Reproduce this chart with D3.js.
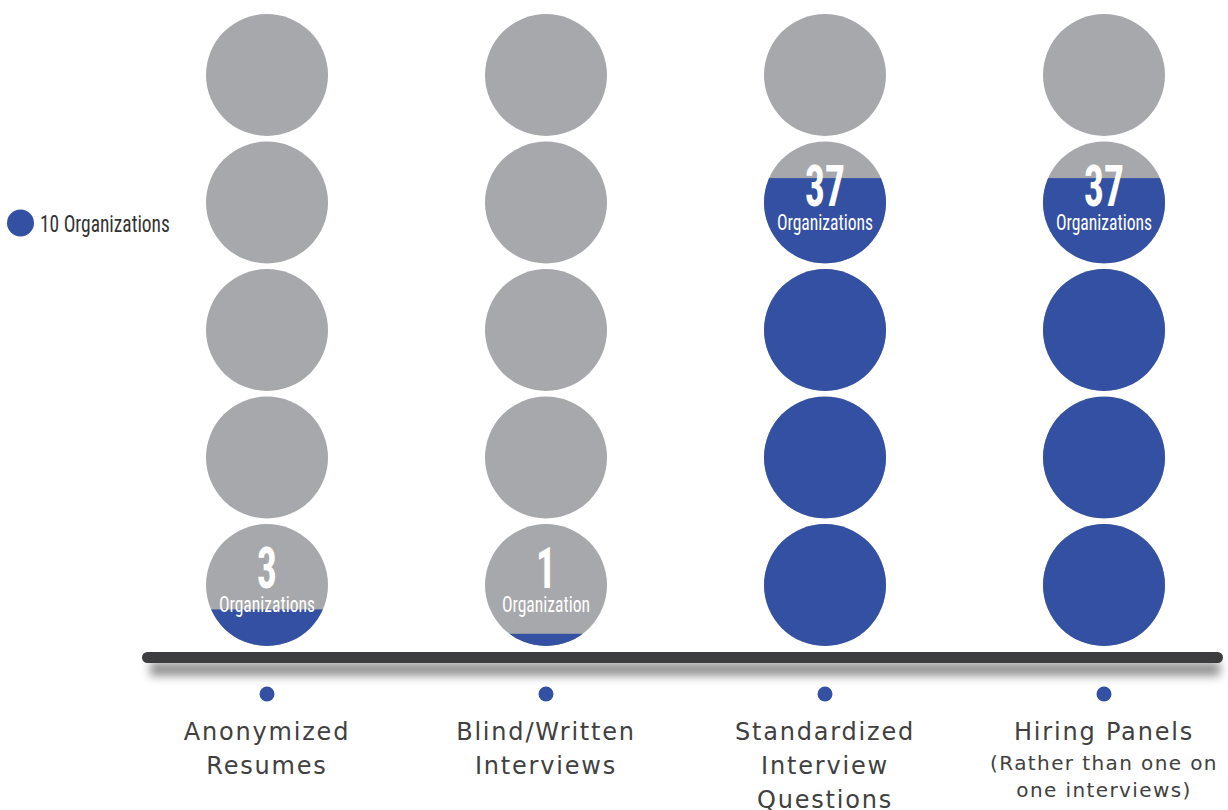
<!DOCTYPE html>
<html><head><meta charset="utf-8">
<script src="https://cdn.jsdelivr.net/npm/d3@7/dist/d3.min.js"></script>
<style>
body{margin:0;background:#fff;}
svg{display:block;}
</style></head>
<body>
<svg id="chart" width="1228" height="810"></svg>
<script>
const categories = ["Anonymized Resumes","Blind/Written Interviews","Standardized Interview Questions","Hiring Panels"];
const labelLines = [["Anonymized","Resumes"],["Blind/Written","Interviews"],["Standardized","Interview","Questions"],["Hiring Panels","(Rather than one on","one interviews)"]];
const values = [3, 1, 37, 37];
const unitsPerCircle = 10;
const circleCount = 5;
const legendLabel = "10 Organizations";

const W = 1228, H = 810;
const svg = d3.select("#chart");
const blue = "#3450a2", gray = "#a7a8ab", dark = "#3d3d3f";
const r = 61;

const x = d3.scalePoint().domain(categories).range([267, 1104]);
const y = d3.scaleLinear().domain([0, circleCount - 1]).range([585, 75]);
const fillH = d3.scaleLinear().domain([0, unitsPerCircle]).range([0, 2 * r]).clamp(true);

const defs = svg.append("defs");
const f = defs.append("filter").attr("id","shadow").attr("x","-10%").attr("y","-200%").attr("width","120%").attr("height","500%");
f.append("feGaussianBlur").attr("stdDeviation", 5);

const condensed = "'Liberation Sans Narrow','Roboto Condensed','DejaVu Sans Condensed',sans-serif";

categories.forEach((cat, ci) => {
  const v = values[ci];
  const cx = x(cat);
  const g = svg.append("g");
  d3.range(circleCount).forEach(i => {
    const cy = y(i);
    const id = `clip-${ci}-${i}`;
    defs.append("clipPath").attr("id", id).append("circle").attr("cx", cx).attr("cy", cy).attr("r", r);
    g.append("circle").attr("cx", cx).attr("cy", cy).attr("r", r).attr("fill", gray);
    const h = fillH(v - i * unitsPerCircle);
    if (h > 0) {
      g.append("rect").attr("clip-path", `url(#${id})`)
        .attr("x", cx - r).attr("width", 2 * r)
        .attr("y", cy + r - h).attr("height", h).attr("fill", blue);
    }
  });
  // label in partial circle
  const li = Math.min(Math.floor(v / unitsPerCircle), circleCount - 1);
  const ly = y(li);
  g.append("text").attr("x", 0).attr("y", 0)
    .attr("transform", `translate(${cx},${ly + 3}) scale(0.68,1)`)
    .attr("text-anchor","middle").attr("fill","#fff")
    .style("font-family", condensed).style("font-weight","bold").style("font-size","58px")
    .text(v);
  g.append("text").attr("x", 0).attr("y", 0)
    .attr("transform", `translate(${cx},${ly + 27}) scale(0.8,1)`)
    .attr("text-anchor","middle").attr("fill","#fff")
    .style("font-family", condensed).style("font-size","22px")
    .text(v === 1 ? "Organization" : "Organizations");

  // dot
  svg.append("circle").attr("cx", cx).attr("cy", 694).attr("r", 7.5).attr("fill", blue);
  // category label
  const t = svg.append("text").attr("text-anchor","middle").attr("fill","#404040")
    .style("font-family","'DejaVu Sans',sans-serif");
  labelLines[ci].forEach((line, k) => {
    const small = ci === 3 && k > 0;
    t.append("tspan").attr("x", cx).attr("y", ci === 3 ? [740, 770, 797][k] : 740 + 34 * k)
      .style("font-size", small ? "20px" : "24px")
      .style("letter-spacing", small ? "1.4px" : "1.8px")
      .text(line);
  });
});

// baseline bar with shadow
svg.insert("rect", ":first-child").attr("x", 150).attr("y", 662).attr("width", 1070).attr("height", 14)
  .attr("fill", "#777").attr("filter","url(#shadow)").attr("opacity", 0.8);
svg.append("rect").attr("x", 142).attr("y", 652).attr("width", 1081).attr("height", 11)
  .attr("rx", 5.5).attr("fill", dark);

// legend
svg.append("circle").attr("cx", 20.5).attr("cy", 223).attr("r", 13.5).attr("fill", blue);
svg.append("text").attr("transform","translate(40,232) scale(0.81,1)")
  .attr("fill","#333").style("font-family", condensed).style("font-size","24px")
  .text(legendLabel);
</script>
</body></html>
